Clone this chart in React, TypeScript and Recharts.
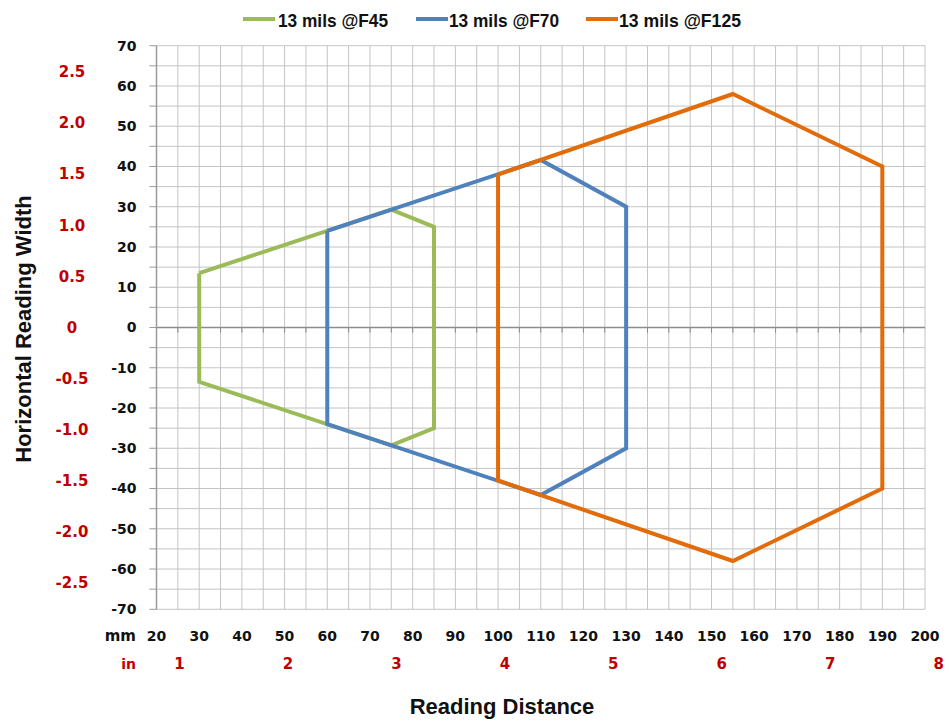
import React from 'react';
import { ScatterChart, Scatter, XAxis, YAxis, CartesianGrid, Legend, ReferenceLine } from 'recharts';

// ---- data ----
const seriesNames = ['13 mils @F45', '13 mils @F70', '13 mils @F125'];
const seriesColors = ['#9BBB59', '#4F81BD', '#E36C0A'];

const f45X = [30, 75, 85, 85, 75, 30, 30];
const f45Y = [13.5, 29.3, 25, -25, -29.3, -13.5, 13.5];
const f70X = [60, 110, 130, 130, 110, 60, 60];
const f70Y = [24, 41.6, 30, -30, -41.6, -24, 24];
const f125X = [100, 155, 190, 190, 155, 100, 100];
const f125Y = [38, 58, 40, -40, -58, -38, 38];

const mmXTicks = [20, 25, 30, 35, 40, 45, 50, 55, 60, 65, 70, 75, 80, 85, 90, 95, 100, 105, 110, 115, 120, 125, 130, 135, 140, 145, 150, 155, 160, 165, 170, 175, 180, 185, 190, 195, 200];
const mmYTicks = [-70, -65, -60, -55, -50, -45, -40, -35, -30, -25, -20, -15, -10, -5, 0, 5, 10, 15, 20, 25, 30, 35, 40, 45, 50, 55, 60, 65, 70];
const inchXTicks = [1, 2, 3, 4, 5, 6, 7, 8];
const inchYTicks = [-2.5, -2.0, -1.5, -1.0, -0.5, 0, 0.5, 1.0, 1.5, 2.0, 2.5];
const MM_PER_INCH = 25.4;
const mmXDomain = [20, 200];
const mmYDomain = [-70, 70];

const toPoints = (xs: number[], ys: number[]) => xs.map((x, i) => ({ x, y: ys[i] }));
const seriesData = [toPoints(f45X, f45Y), toPoints(f70X, f70Y), toPoints(f125X, f125Y)];
const inchAxisRows = inchXTicks.map((v) => ({ xin: v }));
const zeroTickX = mmXTicks.slice(1, -1);

// ---- styles ----
const NUM_FONT = 'DejaVu Sans, Verdana, sans-serif';
const TXT_FONT = 'Liberation Sans, Arial, sans-serif';
const RED = '#C00000';
const GRID = '#C4C4C4';
const AXIS = '#9A9A9A';

const legendLayout = [
  { lineX: 243, textX: 278, textW: 110 },
  { lineX: 416, textX: 449, textW: 110 },
  { lineX: 586, textX: 619, textW: 122 },
];

const renderLegend = (props: any) => {
  const payload = props.payload || [];
  return (
    <svg width={949} height={36} style={{ display: 'block' }}>
      {payload.map((p: any, k: number) => {
        const idx = seriesNames.indexOf(p.value);
        const i = idx >= 0 ? idx : k;
        const L = legendLayout[i];
        return (
          <g key={k}>
            <line x1={L.lineX} x2={L.lineX + 32} y1={19} y2={19} stroke={seriesColors[i]} strokeWidth={4} />
            <text x={L.textX} y={27} textLength={L.textW} lengthAdjust="spacingAndGlyphs"
              fontFamily={TXT_FONT} fontWeight="bold" fontSize={19} fill="#111">{p.value}</text>
          </g>
        );
      })}
    </svg>
  );
};

const MmXTick = (props: any) => {
  const { x, y, payload } = props;
  if (payload.value % 10 !== 0) return <g />;
  return (
    <text x={x} y={y} dy="0.71em" textAnchor="middle" fontFamily={NUM_FONT} fontWeight="bold" fontSize={14} fill="#111">
      {payload.value}
    </text>
  );
};

const MmYTick = (props: any) => {
  const { x, y, payload } = props;
  if (payload.value % 10 !== 0) return <g />;
  return (
    <text x={x} y={y} dy="0.355em" textAnchor="end" fontFamily={NUM_FONT} fontWeight="bold" fontSize={14} fill="#111">
      {payload.value}
    </text>
  );
};

const InXTick = (props: any) => {
  const { x, y, payload } = props;
  return (
    <text x={x} y={y} dy="0.71em" textAnchor="middle" fontFamily={NUM_FONT} fontWeight="bold" fontSize={15} fill={RED}>
      {payload.value}
    </text>
  );
};

const InYTick = (props: any) => {
  const { x, y, payload } = props;
  const v = payload.value;
  return (
    <text x={x} y={y} dy="0.355em" textAnchor="middle" fontFamily={NUM_FONT} fontWeight="bold" fontSize={15} fill={RED}>
      {v === 0 ? '0' : v.toFixed(1)}
    </text>
  );
};

const mmXLabel = () => (
  <text x={136} y={636} dy="0.355em" textAnchor="end" fontFamily={NUM_FONT} fontWeight="bold" fontSize={15} fill="#111">mm</text>
);

const inXLabel = () => (
  <g>
    <text x={136} y={664} dy="0.355em" textAnchor="end" fontFamily={NUM_FONT} fontWeight="bold" fontSize={14} fill={RED}>in</text>
    <text x={502} y={714} textAnchor="middle" fontFamily={TXT_FONT} fontWeight="bold" fontSize={22} fill="#111">Reading Distance</text>
  </g>
);

const inYLabel = () => (
  <text x={31} y={329} transform="rotate(-90 31 329)" textAnchor="middle" fontFamily={TXT_FONT} fontWeight="bold" fontSize={22} fill="#111">
    Horizontal Reading Width
  </text>
);

const NoDot = () => <g />;

export default function App() {
  return (
    <div style={{ position: 'absolute', left: 0, top: 0, width: 949, height: 722, background: '#fff' }}>
      <ScatterChart width={949} height={722} data={inchAxisRows} margin={{ top: 45.7, right: 24, bottom: 42.7, left: 46.5 }}>
        <CartesianGrid stroke={GRID} strokeWidth={1} />
        <XAxis dataKey="x" type="number" domain={mmXDomain} ticks={mmXTicks} interval={0} allowDataOverflow
          height={40} axisLine={false} tickLine={false} tickSize={0} tickMargin={22} tick={<MmXTick />} label={mmXLabel} />
        <XAxis xAxisId="in" dataKey="xin" orientation="bottom" type="number" domain={[mmXDomain[0] / MM_PER_INCH, mmXDomain[1] / MM_PER_INCH]} ticks={inchXTicks}
          interval={0} allowDataOverflow height={30} axisLine={false} tickLine={false} tickSize={0} tickMargin={9}
          tick={<InXTick />} label={inXLabel} />
        <YAxis dataKey="y" type="number" domain={mmYDomain} ticks={mmYTicks} interval={0} allowDataOverflow width={60}
          axisLine={{ stroke: AXIS, strokeWidth: 1.5 }} tickLine={{ stroke: AXIS, strokeWidth: 1 }} tickSize={7} tickMargin={13}
          tick={<MmYTick />} />
        <YAxis yAxisId="in" type="number" domain={[mmYDomain[0] / MM_PER_INCH, mmYDomain[1] / MM_PER_INCH]} ticks={inchYTicks}
          interval={0} allowDataOverflow width={50} axisLine={false} tickLine={false} tickSize={0} tickMargin={24.5}
          tick={<InYTick />} label={inYLabel} />
        <ReferenceLine y={0} stroke="#8C8C8C" strokeWidth={1.5} />
        {zeroTickX.map((x) => (
          <ReferenceLine key={'zt' + x} segment={[{ x, y: 0 }, { x, y: -1.3 }]} stroke="#8C8C8C" strokeWidth={1} />
        ))}
        <Legend verticalAlign="middle" align="center" layout="horizontal" content={renderLegend}
          wrapperStyle={{ top: 0, left: 0, width: 949, height: 36 }} />
        {seriesData.map((d, i) => (
          <Scatter key={seriesNames[i]} data={d} name={seriesNames[i]} fill={seriesColors[i]} stroke={seriesColors[i]}
            line={{ stroke: seriesColors[i], strokeWidth: 4 }} lineType="joint" shape={<NoDot />}
            isAnimationActive={false} legendType="plainline" />
        ))}
      </ScatterChart>
    </div>
  );
}
